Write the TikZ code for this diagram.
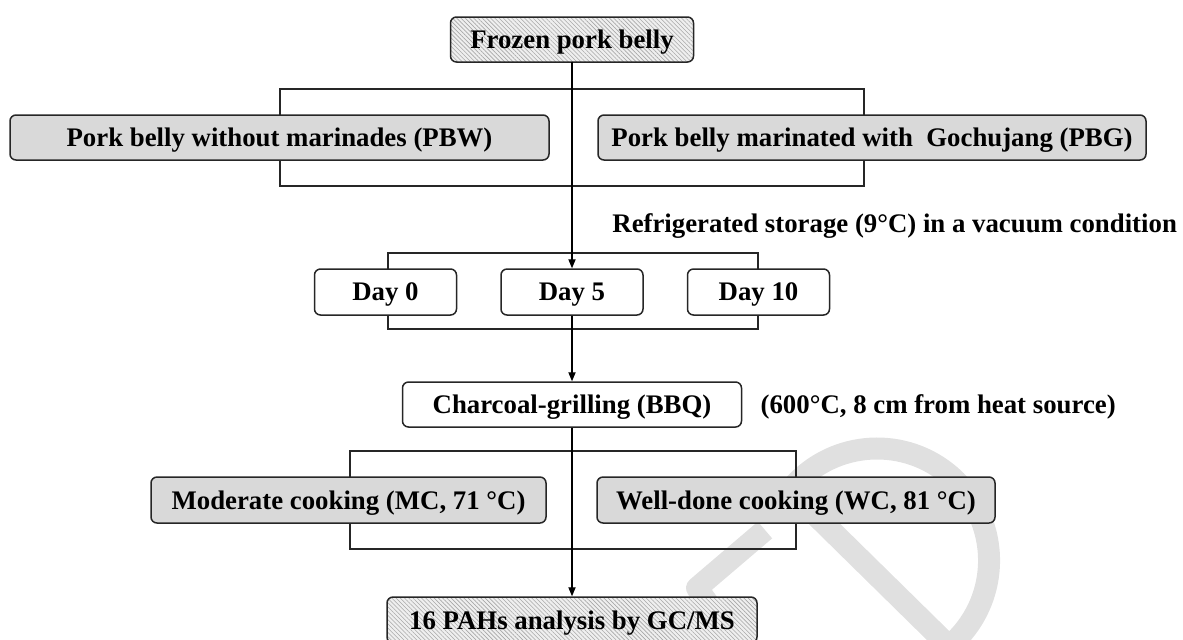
\documentclass[tikz,border=0pt]{standalone}
\usepackage{fontspec}
\setmainfont{Liberation Serif}
\usepackage{xcolor}
\usepackage{tikz}
\usetikzlibrary{arrows.meta,positioning,patterns.meta}
\definecolor{boxgray}{HTML}{D9D9D9}
\definecolor{hatchbase}{HTML}{EFEFEF}
\definecolor{hatchline}{HTML}{A8A8A8}
\definecolor{edgegray}{HTML}{262626}
\definecolor{marklight}{HTML}{E0E0E0}
\tikzset{
  basebox/.style={draw=edgegray,line width=0.75pt,rounded corners=3pt,inner sep=0pt,minimum height=22.5pt,text depth=0pt,font=\fontsize{13.4}{16}\selectfont\bfseries},
  graybox/.style={basebox,fill=boxgray},
  daybox/.style={basebox,fill=white,minimum width=71pt,minimum height=23pt},
  hatchbox/.style={basebox,preaction={fill=hatchbase},pattern={Lines[angle=-45,distance=1.5pt,line width=0.3pt]},pattern color=hatchline},
  linkarrow/.style={-{Triangle[length=4.5pt,width=3.6pt]},line width=0.6pt,draw=black},
  bracketline/.style={draw=edgegray,line width=0.6pt},
  sidelabel/.style={inner sep=0pt,text depth=0pt,font=\fontsize{13.4}{16}\selectfont\bfseries},
  watermark/.style={draw=marklight,line width=11pt,line join=round},
}
\begin{document}
\begin{tikzpicture}[x=0.5pt,y=-0.5pt]
        \useasboundingbox (0,0) rectangle (1183,639);
        % faint logo behind the chart
        \draw[watermark] (790,490) arc[start angle=141,end angle=-50,radius=56pt] -- cycle;
        \draw[watermark] (765,530) -- (697,588) -- (742,650);
        \draw[bracketline] (280,89) rectangle (864,186);
        \draw[bracketline] (388,253) rectangle (758,329);
        \draw[bracketline] (350,451) rectangle (796,549);
        \node[hatchbox,minimum width=121.5pt] (frozen) at (572,39.5) {Frozen pork belly};
        \node[graybox,minimum width=269.5pt] (pbw) at (279.5,137.5) {Pork belly without marinades (PBW)};
        \node[graybox,minimum width=274pt] (pbg) at (872,137.5) {Pork belly marinated with~ Gochujang (PBG)};
        \node[sidelabel,anchor=west] (storage) at (612,223) {Refrigerated storage (9°C) in a vacuum condition};
        \node[daybox] (day5) at (572,292) {Day 5};
        \node[daybox,left=21.5pt of day5] (day0) {Day 0};
        \node[daybox,right=21.5pt of day5] (day10) {Day 10};
        \node[basebox,fill=white,minimum width=169.5pt] (bbq) at (572,404.5) {Charcoal-grilling (BBQ)};
        \node[sidelabel,right=9pt of bbq] (heat) {(600°C, 8 cm from heat source)};
        \node[graybox,minimum width=197.5pt,minimum height=23pt] (mc) at (348.5,500) {Moderate cooking (MC, 71 °C)};
        \node[graybox,minimum width=199pt,minimum height=23pt] (wc) at (796,500) {Well-done cooking (WC, 81 °C)};
        \node[hatchbox,minimum width=185pt,minimum height=23pt] (pahs) at (572,620) {16 PAHs analysis by GC/MS};
        \draw[linkarrow] (frozen.south)--(day5.north); \draw[linkarrow] (day5.south)--(bbq.north); \draw[linkarrow] (bbq.south)--(pahs.north);
\end{tikzpicture}
\end{document}
